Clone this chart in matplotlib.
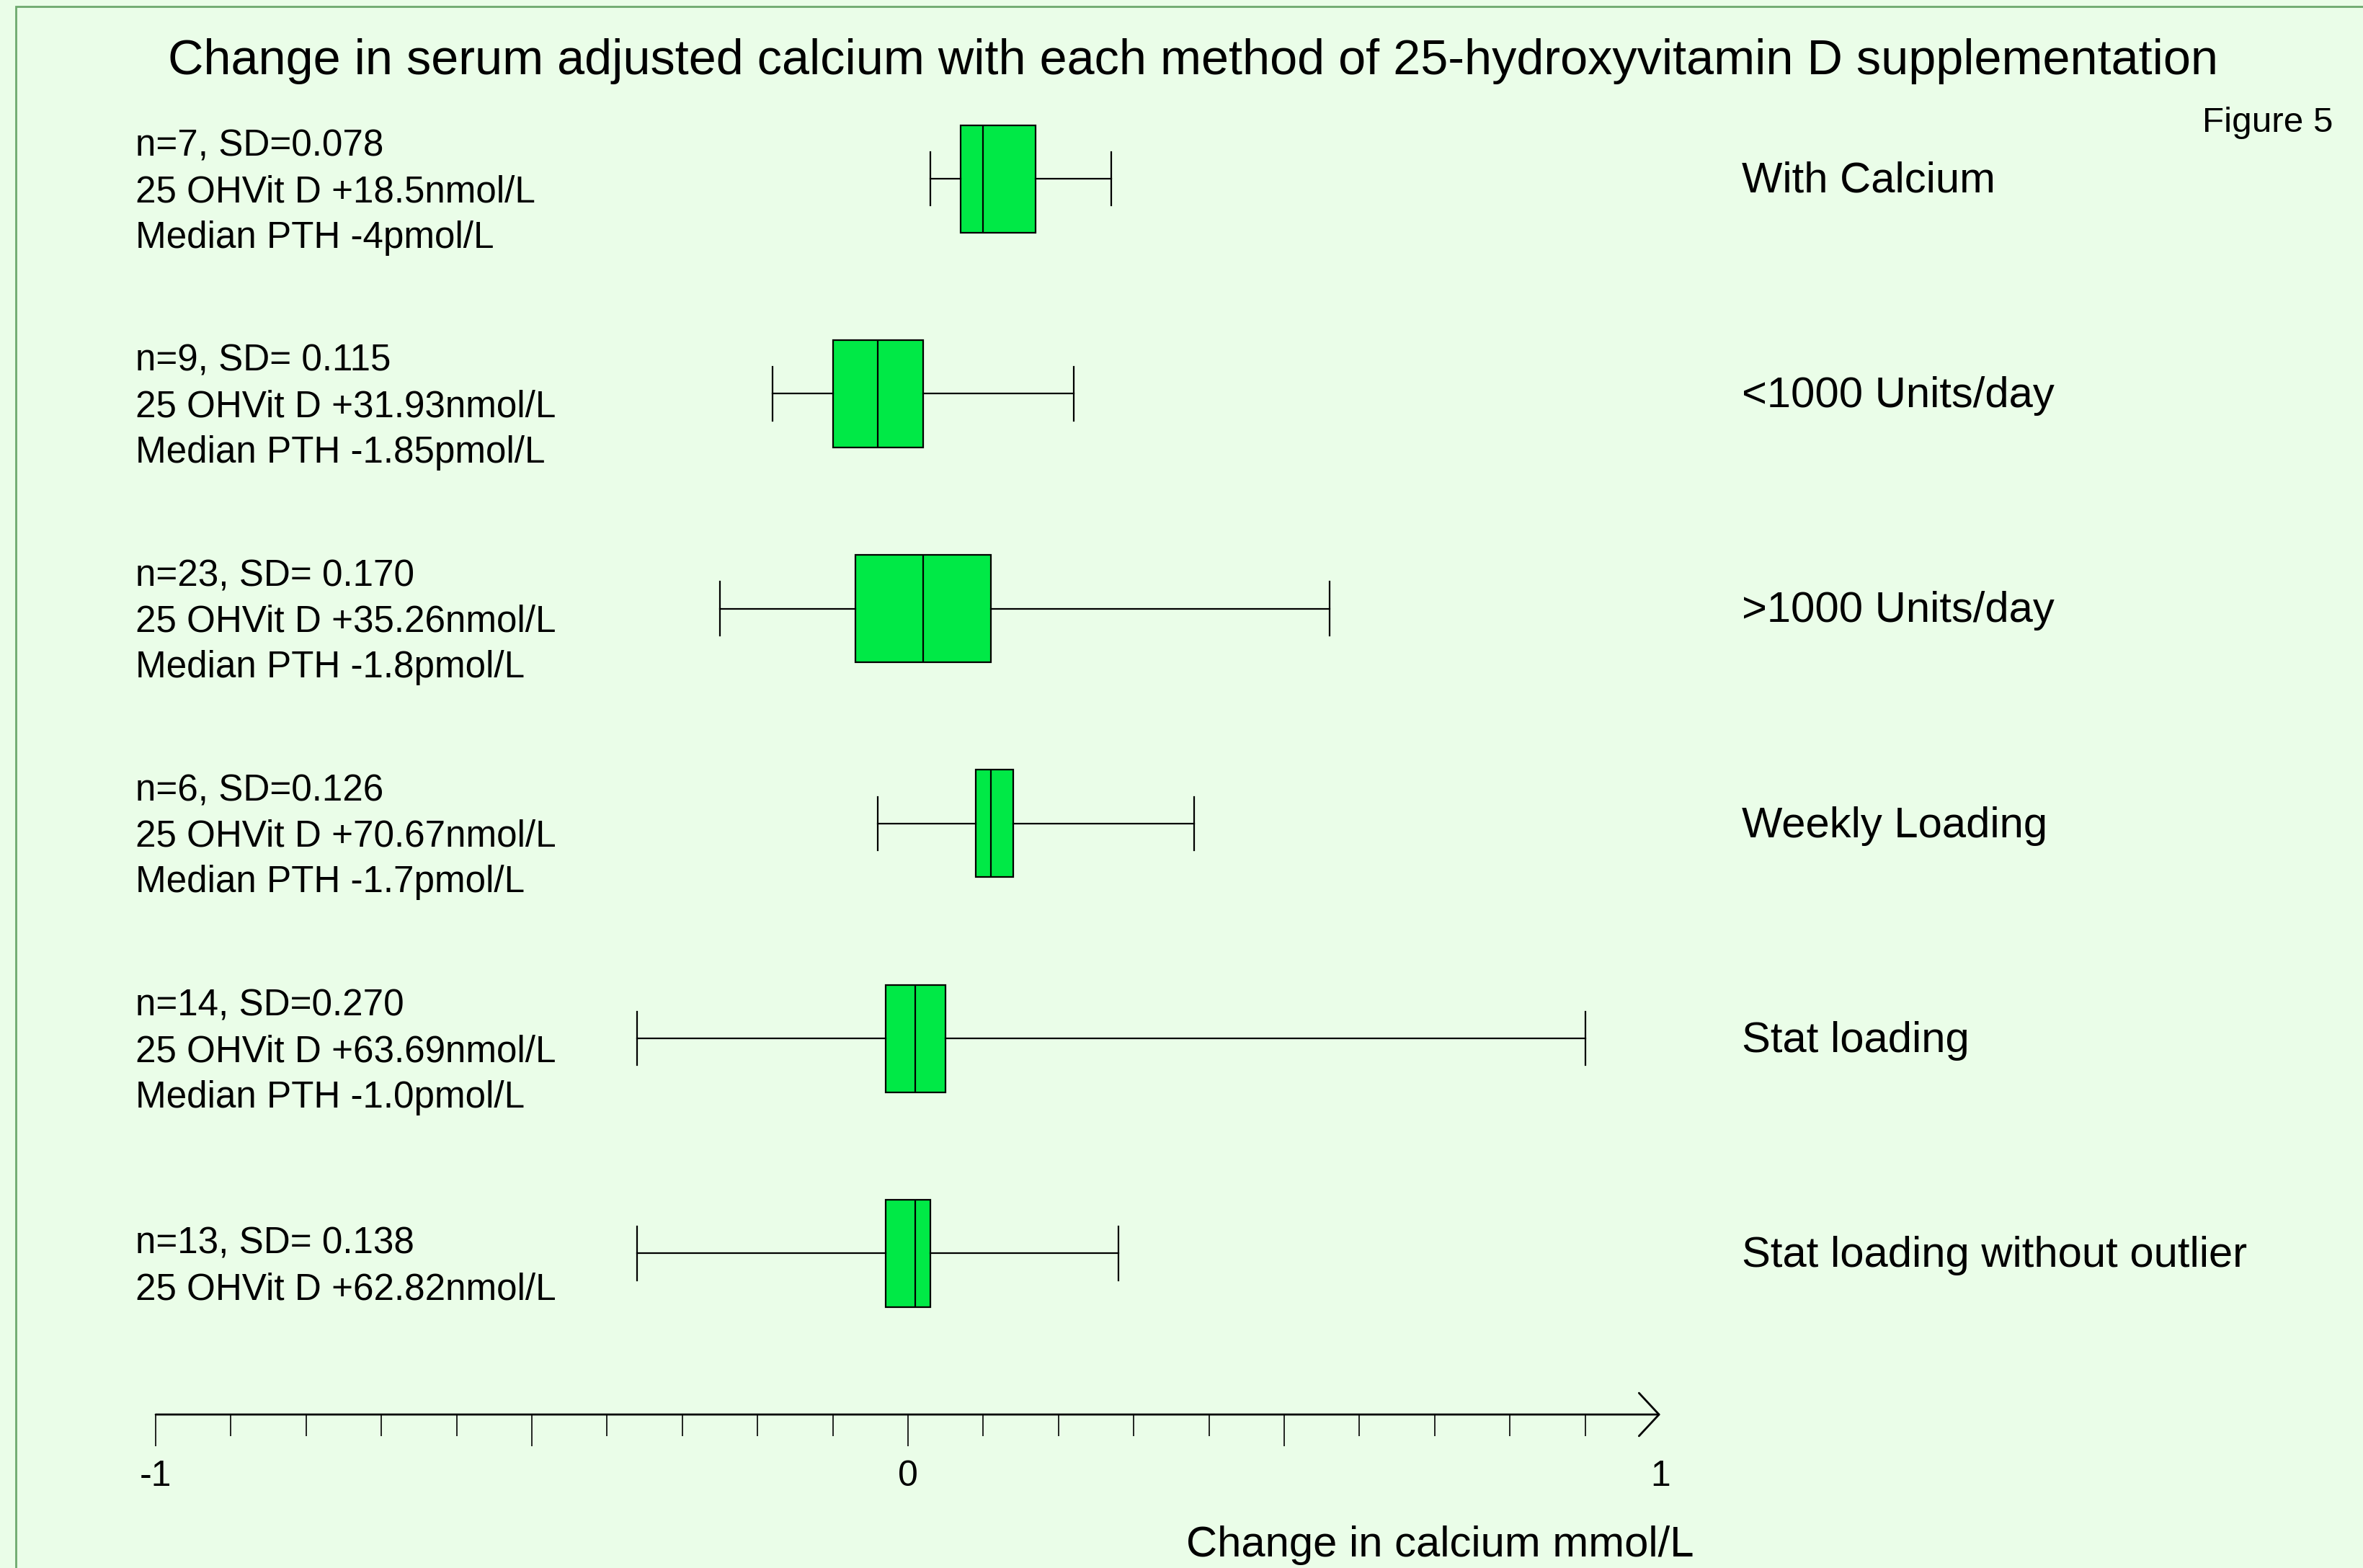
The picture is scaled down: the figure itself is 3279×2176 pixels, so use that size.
import matplotlib
matplotlib.use('Agg')
import matplotlib.pyplot as plt
import matplotlib.transforms as mtrans
from matplotlib.patches import Rectangle

plt.rcParams['font.family'] = ['Liberation Sans', 'DejaVu Sans']

# data (change in calcium, mmol/L)
groups = ['With Calcium', '<1000 Units/day', '>1000 Units/day',
          'Weekly Loading', 'Stat loading', 'Stat loading without outlier']
whislo = [0.03, -0.18, -0.25, -0.04, -0.36, -0.36]
q1 = [0.07, -0.10, -0.07, 0.09, -0.03, -0.03]
med = [0.10, -0.04, 0.02, 0.11, 0.01, 0.01]
q3 = [0.17, 0.02, 0.11, 0.14, 0.05, 0.03]
whishi = [0.27, 0.22, 0.56, 0.38, 0.90, 0.28]
notes = [
    ['n=7, SD=0.078', '25 OHVit D +18.5nmol/L', 'Median PTH -4pmol/L'],
    ['n=9, SD= 0.115', '25 OHVit D +31.93nmol/L', 'Median PTH -1.85pmol/L'],
    ['n=23, SD= 0.170', '25 OHVit D +35.26nmol/L', 'Median PTH -1.8pmol/L'],
    ['n=6, SD=0.126', '25 OHVit D +70.67nmol/L', 'Median PTH -1.7pmol/L'],
    ['n=14, SD=0.270', '25 OHVit D +63.69nmol/L', 'Median PTH -1.0pmol/L'],
    ['n=13, SD= 0.138', '25 OHVit D +62.82nmol/L'],
]
xticks = [-1, -0.5, 0, 0.5, 1]
xticklabels = ['-1', '', '0', '', '1']

bg = '#EAFDE8'
green = '#00E946'
W, H = 3280, 2176

fig = plt.figure(figsize=(W / 200, H / 200), dpi=200, facecolor=bg)
ax = fig.add_axes([216 / W, 1 - 1963 / H, 2088 / W, (1963 - 99) / H])
ax.set_facecolor(bg)
ax.set_xlim(-1, 1)
ax.set_ylim(0.25, 6.5)

pos = list(range(len(groups), 0, -1))
stats = []
for i in range(len(groups)):
    stats.append(dict(med=med[i], q1=q1[i], q3=q3[i], whislo=whislo[i],
                      whishi=whishi[i], fliers=[]))

ax.bxp(stats, positions=pos, widths=0.5, capwidths=0.25,
       orientation='horizontal', patch_artist=True, showfliers=False,
       manage_ticks=False,
       boxprops=dict(facecolor=green, edgecolor='black', linewidth=0.8),
       medianprops=dict(color='black', linewidth=0.8),
       whiskerprops=dict(color='black', linewidth=0.8),
       capprops=dict(color='black', linewidth=0.8))

for s in ax.spines.values():
    s.set_visible(False)
ax.tick_params(axis='y', left=False, labelleft=False)
ax.set_xticks(xticks)
ax.set_xticklabels(xticklabels)
ax.set_xticks([i / 10 for i in range(-9, 10) if i % 5], minor=True)
ax.tick_params(axis='x', which='major', length=16, width=0.6,
               direction='out', labelsize=18, pad=6.5)
ax.tick_params(axis='x', which='minor', length=10.8, width=0.6, direction='out')
ax.xaxis.get_major_ticks()[-1].tick1line.set_visible(False)

# axis line with open arrow head
ax.annotate('', xy=(1, 0.25), xytext=(-1, 0.25),
            arrowprops=dict(arrowstyle='->,head_length=0.4,head_width=0.43',
                            mutation_scale=25, lw=1.0, color='black',
                            shrinkA=0, shrinkB=0),
            annotation_clip=False)

blend = mtrans.blended_transform_factory(fig.transFigure, ax.transData)
for p, g, lines in zip(pos, groups, notes):
    ax.text(2417 / W, p - 0.063, g, transform=blend, fontsize=21.5,
            va='baseline', ha='left')
    n = len(lines)
    for j, ln in enumerate(lines):
        y = p - (32 + (j - (n - 1) / 2) * 63.5) / 298.2
        ax.text(188 / W, y, ln, transform=blend, fontsize=18.4,
                va='baseline', ha='left')

fig.text(0.5046, 1 - 103 / H,
         'Change in serum adjusted calcium with each method of 25-hydroxyvitamin D supplementation',
         ha='center', va='baseline', fontsize=24.6)
fig.text(3056 / W, 1 - 183 / H, 'Figure 5', ha='left', va='baseline', fontsize=17.8)
fig.text(1646 / W, 1 - 2160 / H, 'Change in calcium mmol/L', ha='left',
         va='baseline', fontsize=21.5)

fig.add_artist(Rectangle((22 / W, -0.05), 1.1, 1 - 9 / H + 0.05,
                         transform=fig.transFigure, fill=False,
                         edgecolor='#6EA96E', lw=1.0))

fig.savefig('out.png', dpi=200, facecolor=bg)
